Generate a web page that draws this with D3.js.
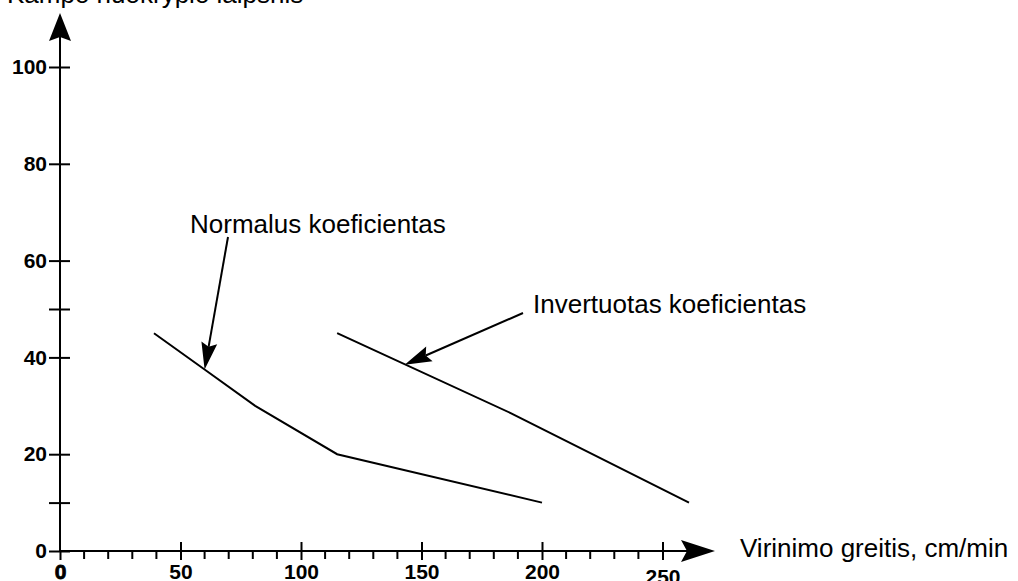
<!DOCTYPE html>
<html>
<head>
<meta charset="utf-8">
<script src="https://cdn.jsdelivr.net/npm/d3@7"></script>
<style>
  body { margin: 0; background: #fff; }
  svg { display: block; font-family: "Liberation Sans", Arial, sans-serif; }
  .tick-label { font-weight: bold; font-size: 21px; }
</style>
</head>
<body>
<div id="chart"></div>
<script>
// Data
const normalX = [39, 60, 81, 115, 200];
const normalY = [45, 37.5, 30, 20, 10];
const invertX = [115, 187, 261];
const invertY = [45, 28.5, 10];

const xMajorTicks = [0, 50, 100, 150, 200, 250];
const xMinorTicks = [10, 20, 30, 40, 60, 70, 80, 90, 110, 120, 130, 140, 160, 170, 180, 190, 210, 220, 230, 240];
const yTicks = [0, 10, 20, 40, 50, 60, 80, 100];
const yLabelled = [0, 20, 40, 60, 80, 100];

const yTitle = "Kampo nuokrypio laipsnis";
const xTitle = "Virinimo greitis, cm/min";
const normalLabel = "Normalus koeficientas";
const invertLabel = "Invertuotas koeficientas";

const width = 1018;
const height = 581;

const svg = d3.select("#chart")
  .append("svg")
  .attr("width", width)
  .attr("height", height);

// Scales
const x = d3.scaleLinear().domain([0, 250]).range([60, 662.5]);
const y = d3.scaleLinear().domain([0, 100]).range([551, 67]);

// filled arrowhead with a notched back, pointing from (x0,y0) to (x1,y1)
function arrow(g, x0, y0, x1, y1, len, half, notch, sw) {
  const dx = x1 - x0, dy = y1 - y0;
  const L = Math.hypot(dx, dy);
  const ux = dx / L, uy = dy / L;
  const nx = -uy, ny = ux;
  const bx = x1 - ux * len, by = y1 - uy * len;
  g.append("line")
    .attr("x1", x0).attr("y1", y0)
    .attr("x2", x1 - ux * (len - notch)).attr("y2", y1 - uy * (len - notch))
    .attr("stroke", "#000").attr("stroke-width", sw);
  g.append("path")
    .attr("d", d3.line()([
      [x1, y1],
      [bx + nx * half, by + ny * half],
      [x1 - ux * (len - notch), y1 - uy * (len - notch)],
      [bx - nx * half, by - ny * half]
    ]) + "Z")
    .attr("fill", "#000");
}

// ----- Axes -----
const yAxis = svg.append("g")
  .attr("transform", `translate(${x(0)},0)`)
  .call(d3.axisLeft(y)
    .tickValues(yTicks)
    .tickSize(11)
    .tickPadding(2)
    .tickFormat(d => yLabelled.includes(d) ? d : ""));
yAxis.select(".domain").remove();
yAxis.selectAll(".tick line").attr("x1", 10).attr("stroke-width", 2);
yAxis.selectAll(".tick text")
  .attr("class", "tick-label")
  .attr("fill", "#000")
  .attr("font-family", null)
  .attr("font-size", null);

const xAxis = svg.append("g")
  .attr("transform", `translate(0,${y(0)})`)
  .call(d3.axisBottom(x)
    .tickValues(xMajorTicks)
    .tickSize(9)
    .tickPadding(0)
    .tickFormat(d => d));
xAxis.select(".domain").remove();
xAxis.selectAll(".tick line")
  .attr("y1", d => d === 0 ? 0 : -9)
  .attr("stroke-width", 2);
xAxis.selectAll(".tick text")
  .attr("class", "tick-label")
  .attr("fill", "#000")
  .attr("font-family", null)
  .attr("font-size", null)
  .attr("dy", null)
  .attr("y", d => d === 250 ? 33 : 28)
  .attr("stroke", d => d === 0 ? "#000" : null)
  .attr("stroke-width", d => d === 0 ? 0.8 : null);

xAxis.selectAll(".minor")
  .data(xMinorTicks)
  .enter()
  .append("line")
  .attr("class", "minor")
  .attr("x1", d => x(d)).attr("x2", d => x(d))
  .attr("y1", 0).attr("y2", 8)
  .attr("stroke", "#000")
  .attr("stroke-width", 2);

// axis lines with arrowheads
const axes = svg.append("g");
arrow(axes, x(0), y(0) + 1, x(0), 13, 28, 11, 4, 2);
arrow(axes, x(0) - 1, y(0), 715, y(0), 34, 11, 6, 2);

// axis titles
svg.append("text")
  .attr("x", 7)
  .attr("y", 3)
  .attr("font-size", 26)
  .text(yTitle);

svg.append("text")
  .attr("x", 740)
  .attr("y", 557)
  .attr("font-size", 26)
  .text(xTitle);

// ----- Lines -----
const line = d3.line()
  .x(d => x(d[0]))
  .y(d => y(d[1]));

svg.append("path")
  .datum(normalX.map((v, i) => [v, normalY[i]]))
  .attr("d", line)
  .attr("fill", "none")
  .attr("stroke", "#000")
  .attr("stroke-width", 2);

svg.append("path")
  .datum(invertX.map((v, i) => [v, invertY[i]]))
  .attr("d", line)
  .attr("fill", "none")
  .attr("stroke", "#000")
  .attr("stroke-width", 2);

// ----- Annotations -----
const notes = svg.append("g");

notes.append("text")
  .attr("x", 190)
  .attr("y", 233)
  .attr("font-size", 26)
  .text(normalLabel);
arrow(notes, 228, 237, x(60), y(37.5), 27, 8, 4, 2);

notes.append("text")
  .attr("x", 533)
  .attr("y", 313)
  .attr("font-size", 26)
  .text(invertLabel);
arrow(notes, 523, 313, x(143), y(38.5), 27, 8, 4, 2);
</script>
</body>
</html>
